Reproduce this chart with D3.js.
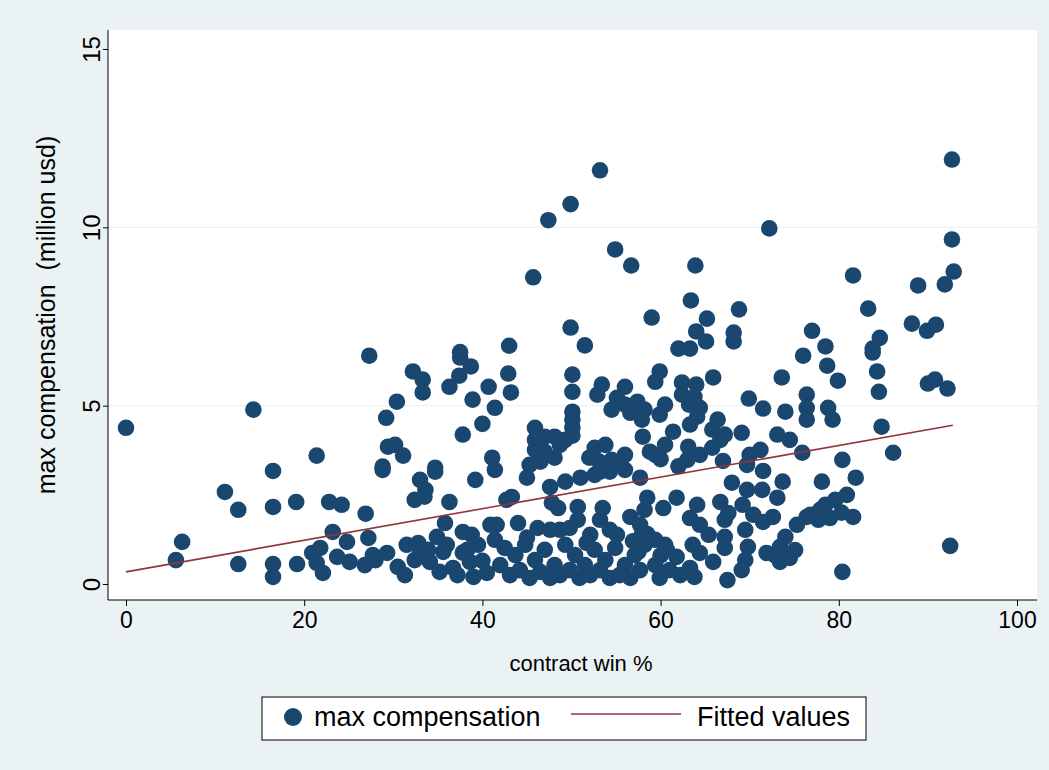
<!DOCTYPE html>
<html>
<head>
<meta charset="utf-8">
<script src="https://cdn.jsdelivr.net/npm/d3@7"></script>
<style>
  body { margin: 0; background: #eaf2f3; }
  svg text { font-family: "Liberation Sans", Arial, sans-serif; fill: #000; }
</style>
</head>
<body>
<div id="chart"></div>
<script>
// contract win % (x) and max compensation in million usd (y)
var winPct = [
  0, 92.7, 53.2, 49.9, 47.4, 54.9, 56.7, 63.9, 45.7, 63.4, 59.0, 65.2, 68.8, 49.9, 64.0, 65.1, 51.5, 68.2, 68.2, 62.0,
  63.3, 72.2, 92.7, 92.9, 91.9, 88.9, 81.6, 83.3, 88.2, 89.9, 90.9, 77.0, 84.6, 78.5, 83.8, 76.0, 27.3, 37.5, 37.5, 43.0,
  38.7, 32.2, 33.3, 33.3, 37.4, 36.3, 40.7, 38.9, 30.4, 29.2, 40.0, 37.8, 29.4, 30.2, 31.1, 28.8, 34.7, 41.1, 41.4, 14.3,
  21.4, 16.5, 11.1, 12.6, 16.5, 19.1, 22.8, 23.2, 6.3, 5.6, 12.6, 16.5, 16.5, 19.2, 20.9, 21.8, 21.4, 22.1,
  42.9, 50.1, 50.1, 43.2, 53.4, 52.9, 56.0, 55.1, 56.0, 57.4, 58.2, 54.5, 56.6, 57.9, 50.1, 50.1, 50.1, 50.1, 45.9, 45.9,
  47.0, 48.1, 45.9, 47.0, 48.7, 46.5, 48.1, 45.3, 49.3, 58.0, 58.8, 52.6, 53.8, 52.0, 53.1, 54.5, 56.0, 55.4,
  59.9, 59.4, 65.9, 62.4, 62.4, 64.0, 63.8, 63.2, 64.4, 73.6, 76.4, 76.4, 76.4, 69.9, 71.5, 74.0, 60.5, 59.9, 64.1, 63.3,
  66.4, 65.8, 67.2, 69.1, 61.4, 60.5, 59.4, 73.1, 74.5, 63.1, 64.4, 65.8, 66.7, 70.0, 71.2, 75.9, 63.0, 60.0, 62.0, 67.0,
  83.8, 78.7, 84.3, 79.9, 90.0, 90.8, 92.2, 84.5, 78.8, 79.3, 84.8, 86.1, 80.4,
  78.1, 81.9, 80.9, 79.6, 78.5, 77.9, 76.8, 77.7, 79.0, 81.6, 92.5, 80.4, 80.3,
  71.5, 69.7, 68.0, 69.7, 71.4, 73.7, 73.1, 69.2, 66.7, 67.6, 64.1, 61.8, 60.3, 63.3, 64.4, 70.4, 71.5, 72.6, 75.3, 76.4,
  67.2, 69.5, 65.4, 67.2, 67.2, 63.6, 64.4, 59.4, 60.5, 60.0, 60.7, 69.8, 69.5, 69.1, 74.0, 73.4, 72.8, 75.1, 74.5, 73.4,
  71.9, 65.9, 67.5, 59.4, 61.0, 62.2, 63.3, 59.9, 63.8, 61.8, 63.3, 58.5, 57.5,
  41.4, 45.0, 43.3, 42.7, 47.6, 49.3, 51.0, 52.6, 54.3, 56.0, 57.7, 53.2, 47.8, 48.5, 50.7, 50.7, 53.5, 53.2, 54.3, 56.6,
  58.2, 57.7, 58.5, 41.6, 44.0, 46.2, 47.6, 48.7, 49.8, 52.1, 55.1, 57.9,
  41.4, 42.5, 43.7, 44.8, 45.9, 47.0, 48.1, 49.3, 50.4, 51.5, 52.6, 53.8, 54.9, 56.0, 57.1, 58.2, 42.0, 43.1, 44.2, 45.3,
  46.5, 47.6, 48.7, 49.8, 50.9, 52.1, 53.2, 54.3, 55.4, 56.6, 57.7, 56.9, 51.7, 45.0,
  28.8, 34.7, 33.0, 33.6, 32.4, 33.5, 39.2, 36.3, 24.2, 26.9, 35.8, 24.8, 27.2, 37.8, 38.8, 34.9, 31.5, 33.0, 32.8, 33.9,
  35.6, 23.7, 25.1, 26.8, 28.0, 27.7, 29.3, 30.5, 31.3, 32.4, 34.1, 35.2, 36.7, 38.3, 38.6, 40.5, 40.9, 37.8, 39.5, 36.0,
  40.0, 39.0, 37.2
]
var maxComp = [
  4.38, 11.9, 11.6, 10.65, 10.2, 9.38, 8.93, 8.93, 8.6, 7.95, 7.47, 7.44, 7.7, 7.19, 7.08, 6.8, 6.69, 7.05, 6.8, 6.6,
  6.6, 9.97, 9.66, 8.76, 8.4, 8.37, 8.65, 7.72, 7.3, 7.1, 7.27, 7.1, 6.9, 6.66, 6.6, 6.4, 6.4, 6.5, 6.35, 6.68,
  6.1, 5.96, 5.73, 5.37, 5.84, 5.53, 5.53, 5.17, 5.11, 4.66, 4.49, 4.19, 3.85, 3.9, 3.6, 3.29, 3.26, 3.54, 4.94, 4.89,
  3.6, 3.17, 2.58, 2.08, 2.16, 2.3, 2.3, 1.46, 1.18, 0.67, 0.56, 0.56, 0.2, 0.56, 0.87, 1.01, 0.59, 0.31,
  5.9, 5.87, 5.39, 5.37, 5.59, 5.31, 5.53, 5.22, 5.03, 5.11, 4.89, 4.89, 4.8, 4.61, 4.83, 4.61, 4.38, 4.16, 4.38, 4.04,
  4.13, 4.13, 3.76, 3.71, 3.9, 3.43, 3.54, 3.34, 4.04, 4.13, 3.71, 3.82, 3.9, 3.54, 3.43, 3.48, 3.62, 3.34,
  5.96, 5.67, 5.79, 5.65, 5.31, 5.59, 5.25, 5.03, 4.94, 5.79, 5.31, 4.94, 4.61, 5.2, 4.92, 4.83, 5.03, 4.75, 4.69, 4.47,
  4.61, 4.33, 4.19, 4.24, 4.27, 3.9, 3.62, 4.19, 4.04, 3.85, 3.62, 3.82, 4.04, 3.62, 3.76, 3.68, 3.48, 3.5, 3.3, 3.45,
  6.49, 6.12, 5.96, 5.7, 5.62, 5.73, 5.48, 5.39, 4.94, 4.61, 4.41, 3.68, 3.48,
  2.87, 2.98, 2.5, 2.36, 2.22, 2.08, 1.94, 1.8, 1.85, 1.88, 1.07, 0.34, 2.0,
  3.17, 3.34, 2.84, 2.64, 2.64, 2.87, 2.42, 2.22, 2.3, 1.99, 2.22, 2.42, 2.13, 1.85, 1.66, 1.94, 1.74, 1.88, 1.66, 1.88,
  1.8, 1.52, 1.38, 1.32, 1.01, 1.1, 0.87, 1.24, 1.1, 0.8, 0.96, 1.04, 0.67, 0.39, 1.32, 1.04, 0.81, 0.95, 0.73, 0.62,
  0.87, 0.62, 0.11, 0.53, 0.39, 0.25, 0.45, 0.17, 0.2, 0.76, 0.34, 1.4, 0.9,
  3.2, 2.98, 2.44, 2.36, 2.72, 2.87, 2.98, 3.06, 3.15, 3.2, 2.98, 3.15, 2.28, 2.13, 2.16, 1.8, 2.13, 1.8, 1.52, 1.88,
  2.08, 1.66, 2.42, 1.66, 1.71, 1.57, 1.52, 1.52, 1.57, 1.38, 1.38, 1.38,
  1.24, 1.01, 0.81, 1.1, 0.67, 0.96, 0.53, 1.1, 0.81, 0.53, 0.96, 0.67, 1.01, 0.53, 0.81, 1.1, 0.53, 0.25, 0.39, 0.17,
  0.34, 0.17, 0.25, 0.39, 0.17, 0.25, 0.39, 0.17, 0.25, 0.17, 0.39, 1.2, 1.15, 1.3,
  3.2, 3.15, 2.92, 2.64, 2.36, 2.45, 2.92, 2.3, 2.22, 1.97, 1.71, 1.18, 1.29, 1.46, 1.38, 1.32, 1.1, 0.96, 1.15, 0.96,
  0.9, 0.76, 0.62, 0.53, 0.67, 0.81, 0.87, 0.48, 0.25, 0.67, 0.62, 0.34, 0.45, 0.96, 0.62, 0.31, 1.66, 0.88, 1.1, 1.1,
  0.65, 0.2, 0.25
]
// fitted values line
var fitX = [0, 92.8]
var fitY = [0.34, 4.45]

var xTicks = [0, 20, 40, 60, 80, 100]
var yTicks = [0, 5, 10, 15]

var W = 1049, H = 770
var plot = { left: 108, top: 30, right: 1037, bottom: 600 }

var svg = d3.select("#chart").append("svg")
  .attr("width", W)
  .attr("height", H)

svg.append("rect")
  .attr("width", W).attr("height", H)
  .attr("fill", "#eaf2f3")

svg.append("rect")
  .attr("x", plot.left).attr("y", plot.top)
  .attr("width", plot.right - plot.left)
  .attr("height", plot.bottom - plot.top)
  .attr("fill", "#ffffff")

var x = d3.scaleLinear().domain([0, 100]).range([126, 1017])
var y = d3.scaleLinear().domain([0, 15]).range([584, 49])

// gridlines at interior ticks
svg.selectAll(".grid")
  .data([5, 10])
  .enter().append("line")
  .attr("class", "grid")
  .attr("x1", plot.left).attr("x2", plot.right)
  .attr("y1", function(d) { return y(d) })
  .attr("y2", function(d) { return y(d) })
  .attr("stroke", "#eaf2f3")
  .attr("stroke-width", 1.2)

var points = winPct.map(function(d, i) { return { x: d, y: maxComp[i] } })

svg.selectAll(".dot")
  .data(points)
  .enter().append("circle")
  .attr("class", "dot")
  .attr("cx", function(d) { return x(d.x) })
  .attr("cy", function(d) { return y(d.y) })
  .attr("r", 8.3)
  .attr("fill", "#1a476f")

svg.append("path")
  .datum(fitX.map(function(d, i) { return [d, fitY[i]] }))
  .attr("d", d3.line().x(function(d) { return x(d[0]) }).y(function(d) { return y(d[1]) }))
  .attr("fill", "none")
  .attr("stroke", "#90353b")
  .attr("stroke-width", 1.6)

// axes
var xAxis = svg.append("g")
  .attr("transform", "translate(0," + plot.bottom + ")")
  .call(d3.axisBottom(x).tickValues(xTicks).tickSize(6).tickPadding(6))
xAxis.select(".domain").attr("d", "M" + plot.left + ",0H" + plot.right)
xAxis.selectAll("path, line").attr("stroke", "#000")
xAxis.selectAll("text").attr("font-size", 23).style("font-family", "Liberation Sans, Arial, sans-serif")

var yAxis = svg.append("g")
  .attr("transform", "translate(" + plot.left + ",0)")
  .call(d3.axisLeft(y).tickValues(yTicks).tickSize(5))
yAxis.select(".domain").attr("d", "M0," + plot.top + "V" + plot.bottom)
yAxis.selectAll("path, line").attr("stroke", "#000")
yAxis.selectAll("text")
  .attr("font-size", 24)
  .attr("x", 0).attr("dy", 0)
  .attr("text-anchor", "middle")
  .attr("transform", "translate(-8,0) rotate(-90)")
  .style("font-family", "Liberation Sans, Arial, sans-serif")

svg.append("text")
  .attr("x", 581).attr("y", 671)
  .attr("text-anchor", "middle")
  .attr("font-size", 22)
  .text("contract win %")

svg.append("text")
  .attr("transform", "translate(55,315) rotate(-90)")
  .attr("text-anchor", "middle")
  .attr("font-size", 25)
  .attr("xml:space", "preserve")
  .text("max compensation  (million usd)")

// legend
var legend = svg.append("g")
legend.append("rect")
  .attr("x", 262).attr("y", 697)
  .attr("width", 604).attr("height", 43)
  .attr("fill", "#ffffff")
  .attr("stroke", "#000")
  .attr("stroke-width", 1)
legend.append("circle")
  .attr("cx", 293).attr("cy", 717).attr("r", 9)
  .attr("fill", "#1a476f")
legend.append("text")
  .attr("x", 314).attr("y", 726)
  .attr("font-size", 27)
  .text("max compensation")
legend.append("line")
  .attr("x1", 571).attr("x2", 681)
  .attr("y1", 714).attr("y2", 714)
  .attr("stroke", "#90353b").attr("stroke-width", 1.6)
legend.append("text")
  .attr("x", 697).attr("y", 726)
  .attr("font-size", 27)
  .text("Fitted values")
</script>
</body>
</html>
